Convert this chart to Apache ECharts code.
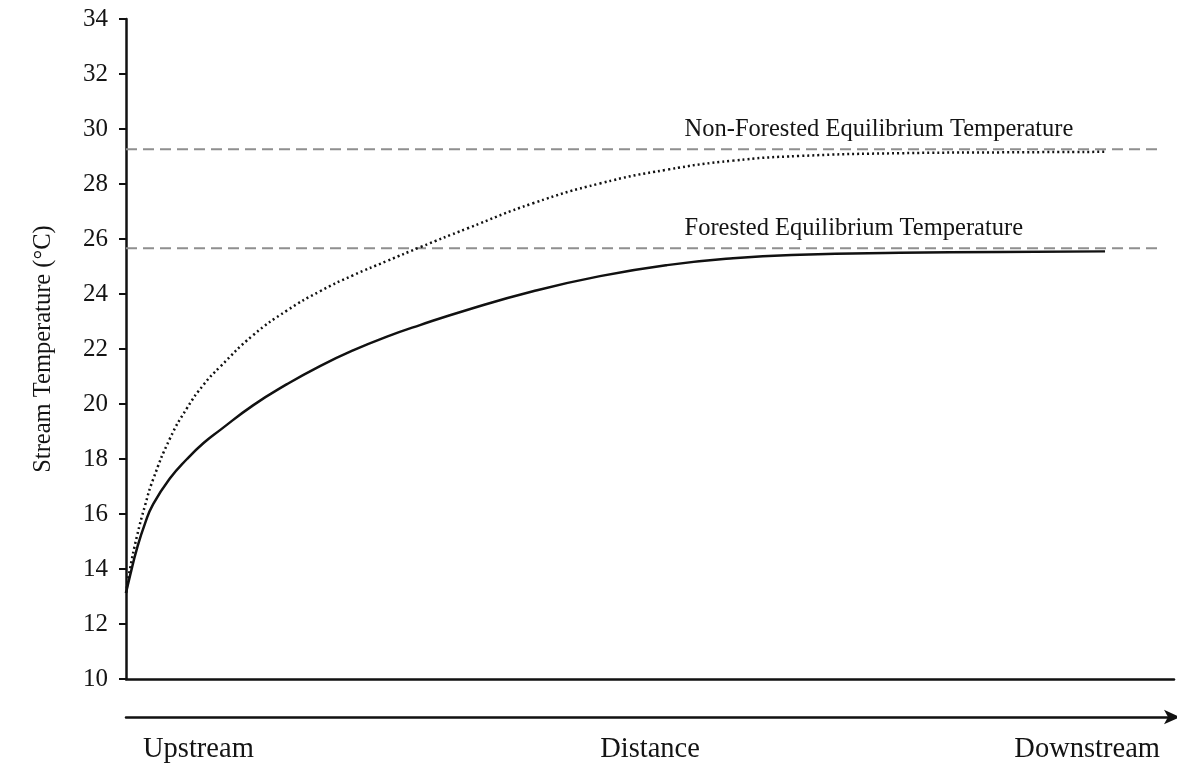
<!DOCTYPE html>
<html>
<head>
<meta charset="utf-8">
<script src="https://cdn.jsdelivr.net/npm/echarts@6/dist/echarts.min.js"></script>
<style>
html,body{margin:0;padding:0;background:#fff;}
#chart{width:1177px;height:769px;}
</style>
</head>
<body>
<div id="chart"></div>
<script>
// Relative distance along the stream (0 = upstream, 100 = downstream)
var distance = [0, 0.38, 1.05, 1.81, 2.58, 4.2, 5.82, 7.4, 8.97, 12.12, 15.36, 18.51, 21.66, 24.9, 28.05, 32.54, 38.84, 45.23, 51.62, 57.92, 64.31, 73.85, 83.4, 93.42];
// Stream temperature (°C)
var forestedTemp    = [13.13, 13.75, 14.75, 15.65, 16.35, 17.3, 18.0, 18.58, 19.05, 19.95, 20.72, 21.38, 21.95, 22.45, 22.87, 23.42, 24.1, 24.65, 25.05, 25.3, 25.43, 25.5, 25.53, 25.55];
var nonForestedTemp = [13.13, 14.0, 15.2, 16.3, 17.25, 18.75, 19.85, 20.7, 21.35, 22.5, 23.4, 24.1, 24.68, 25.2, 25.7, 26.38, 27.3, 28.02, 28.52, 28.85, 29.02, 29.12, 29.15, 29.17];
// Equilibrium temperatures
var forestedEq = 25.66;
var nonForestedEq = 29.26;
var eqLineExtent = [0, 98.4];
var eqLabelAt = 53.3;
var eqLabels = ['Forested Equilibrium Temperature', 'Non-Forested Equilibrium Temperature'];
// Axis
var yTicks = [10, 12, 14, 16, 18, 20, 22, 24, 26, 28, 30, 32, 34];
var yAxisName = 'Stream Temperature (°C)';
var positionLabels = ['Upstream', 'Distance', 'Downstream'];

var FONT = 'Liberation Serif';

function pairs(xs, ys) { return xs.map(function (x, i) { return [x, ys[i]]; }); }
function eqData(v, label) {
  return [
    [eqLineExtent[0], v],
    { value: [eqLabelAt, v], label: { show: true, formatter: label } },
    [eqLineExtent[1], v]
  ];
}

var chart = echarts.init(document.getElementById('chart'), null, { renderer: 'canvas' });

var eqStyle = { color: '#8f8f8f', width: 2, type: [11, 6] };
var eqLabel = {
  show: false, position: 'inside', align: 'left', verticalAlign: 'middle',
  offset: [0, -20], fontFamily: FONT, fontSize: 24.5, color: '#141414'
};

chart.setOption({
  animation: false,
  backgroundColor: '#ffffff',
  textStyle: { fontFamily: FONT },
  grid: [
    { left: 126, right: 3, top: 19, bottom: 90, containLabel: false },
    { left: 126, right: 3, top: 717, height: 1, containLabel: false }
  ],
  xAxis: [
    {
      type: 'value', gridIndex: 0, min: 0, max: 100,
      axisLine: { show: true, onZero: false, lineStyle: { color: '#111', width: 2.5 } },
      axisTick: { show: false }, axisLabel: { show: false }, splitLine: { show: false }
    },
    {
      type: 'value', gridIndex: 1, min: 0, max: 100, position: 'top',
      axisLine: { show: true, onZero: false, symbol: ['none', 'arrow'], symbolSize: [11, 16], symbolOffset: [0, 6],
        lineStyle: { color: '#111', width: 2.5 } },
      axisTick: { show: false }, axisLabel: { show: false }, splitLine: { show: false }
    }
  ],
  yAxis: [
    {
      type: 'value', gridIndex: 0, min: yTicks[0], max: yTicks[yTicks.length - 1], interval: yTicks[1] - yTicks[0],
      name: yAxisName, nameLocation: 'middle', nameGap: 70,
      nameTextStyle: { fontFamily: FONT, fontSize: 24.5, color: '#141414' },
      axisLine: { show: true, lineStyle: { color: '#111', width: 2.5 } },
      axisTick: { show: true, inside: false, length: 7, lineStyle: { color: '#111', width: 2 } },
      axisLabel: { margin: 18, fontFamily: FONT, fontSize: 25, color: '#141414' },
      splitLine: { show: false }
    },
    {
      type: 'value', gridIndex: 1, min: 0, max: 1, show: false
    }
  ],
  series: [
    {
      name: 'Non-Forested Equilibrium', type: 'line', xAxisIndex: 0, yAxisIndex: 0,
      data: eqData(nonForestedEq, eqLabels[1]),
      symbol: 'circle', symbolSize: 0, showSymbol: true, silent: true,
      lineStyle: eqStyle, itemStyle: { color: 'rgba(0,0,0,0)' }, label: eqLabel, z: 2
    },
    {
      name: 'Forested Equilibrium', type: 'line', xAxisIndex: 0, yAxisIndex: 0,
      data: eqData(forestedEq, eqLabels[0]),
      symbol: 'circle', symbolSize: 0, showSymbol: true, silent: true,
      lineStyle: eqStyle, itemStyle: { color: 'rgba(0,0,0,0)' }, label: eqLabel, z: 2
    },
    {
      name: 'Non-Forested', type: 'line', xAxisIndex: 0, yAxisIndex: 0,
      data: pairs(distance, nonForestedTemp), smooth: 0.5, showSymbol: false,
      lineStyle: { color: '#111', width: 2.5, type: [2, 3] }, z: 3
    },
    {
      name: 'Forested', type: 'line', xAxisIndex: 0, yAxisIndex: 0,
      data: pairs(distance, forestedTemp), smooth: 0.5, showSymbol: false,
      lineStyle: { color: '#111', width: 2.5 }, z: 4
    }
  ],
  graphic: [
    { type: 'text', x: 143, y: 750, style: { text: positionLabels[0], font: '28.5px "Liberation Serif"', fill: '#141414', textAlign: 'left', textVerticalAlign: 'middle' } },
    { type: 'text', x: 650, y: 750, style: { text: positionLabels[1], font: '28.5px "Liberation Serif"', fill: '#141414', textAlign: 'center', textVerticalAlign: 'middle' } },
    { type: 'text', x: 1160, y: 750, style: { text: positionLabels[2], font: '28.5px "Liberation Serif"', fill: '#141414', textAlign: 'right', textVerticalAlign: 'middle' } }
  ]
});
</script>
</body>
</html>
